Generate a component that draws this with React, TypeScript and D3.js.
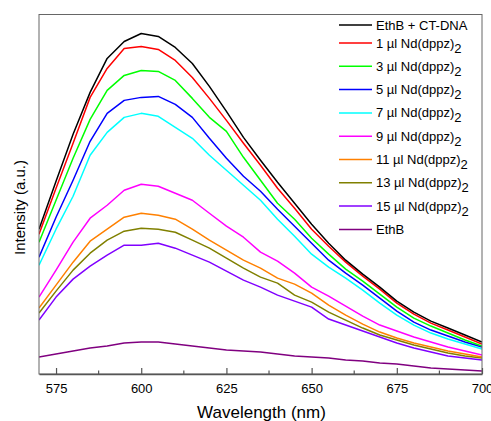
import { useEffect, useRef } from 'react'
import * as d3 from 'd3'

// emission wavelength (nm)
const WAVELENGTHS = [
  570, 575, 580, 585, 590, 595, 600, 605, 610, 615, 620, 625, 630, 635,
  640, 645, 650, 655, 660, 665, 670, 675, 680, 685, 690, 695, 700
]

// intensities (a.u.)
const ETHB_DNA = [145, 193, 240, 282, 316, 333, 341, 338, 327, 311, 288, 263, 237, 214, 192, 171, 150, 131, 114, 100, 87, 73, 62, 53, 46, 39, 32]
const ND_1 = [140, 186, 231, 277, 306, 326, 328, 325, 314, 297, 276, 254, 231, 209, 186, 166, 145, 128, 112, 98, 85, 71, 60, 51, 44, 37, 30]
const ND_3 = [132, 174, 216, 255, 284, 299, 304, 303, 294, 276, 257, 243, 217, 194, 171, 155, 136, 120, 105, 93, 80, 67, 56, 48, 41, 34, 28]
const ND_5 = [117, 157, 194, 233, 261, 274, 277, 278, 270, 257, 236, 216, 198, 183, 165, 148, 131, 114, 101, 89, 76, 63, 52, 44, 38, 32, 27]
const ND_7 = [109, 145, 178, 219, 242, 257, 261, 258, 247, 236, 219, 204, 189, 174, 155, 138, 120, 107, 96, 84, 71, 59, 49, 41, 35, 30, 25]
const ND_9 = [77, 104, 132, 156, 169, 184, 190, 188, 181, 174, 161, 148, 137, 122, 113, 101, 87, 78, 68, 58, 49, 43, 37, 32, 27, 23, 19]
const ND_11 = [66, 89, 112, 133, 145, 157, 161, 159, 155, 145, 134, 124, 114, 106, 96, 90, 81, 69, 59, 50, 42, 36, 31, 27, 23, 20, 17]
const ND_13 = [61, 83, 104, 121, 134, 143, 146, 145, 142, 134, 126, 116, 106, 97, 91, 79, 72, 62, 54, 46, 39, 34, 29, 25, 21, 18, 16]
const ND_15 = [54, 77, 95, 108, 119, 129, 129, 131, 126, 119, 112, 103, 94, 87, 79, 73, 67, 55, 49, 43, 37, 31, 26, 22, 18, 16, 14]
const ETHB = [17, 20, 23, 26, 28, 31, 32, 32, 30, 28, 26, 24, 23, 22, 20, 18, 17, 16, 14, 13, 11, 10, 8, 6, 5, 4, 3]

const X_TICKS = [575, 600, 625, 650, 675, 700]
const X_MINOR = [587.5, 612.5, 637.5, 662.5, 687.5]

const SERIES = [
  { label: 'EthB + CT-DNA', sub: '', values: ETHB_DNA, color: '#000000' },
  { label: '1 \u00b5l Nd(dppz)', sub: '2', values: ND_1, color: '#ff0000' },
  { label: '3 \u00b5l Nd(dppz)', sub: '2', values: ND_3, color: '#00ff00' },
  { label: '5 \u00b5l Nd(dppz)', sub: '2', values: ND_5, color: '#0000ff' },
  { label: '7 \u00b5l Nd(dppz)', sub: '2', values: ND_7, color: '#00ffff' },
  { label: '9 \u00b5l Nd(dppz)', sub: '2', values: ND_9, color: '#ff00ff' },
  { label: '11 \u00b5l Nd(dppz)', sub: '2', values: ND_11, color: '#ff8000' },
  { label: '13 \u00b5l Nd(dppz)', sub: '2', values: ND_13, color: '#808000' },
  { label: '15 \u00b5l Nd(dppz)', sub: '2', values: ND_15, color: '#8000ff' },
  { label: 'EthB', sub: '', values: ETHB, color: '#800080' }
]

const FONT = '"Liberation Sans", Arial, sans-serif'

const SpectraChart = () => {
  const ref = useRef<HTMLDivElement>(null)

  useEffect(() => {
    const width = 491, height = 421
    const margin = { top: 14.5, right: 9, bottom: 47, left: 39 }

    d3.select(ref.current).selectAll('*').remove()

    const svg = d3.select(ref.current)
      .append('svg')
      .attr('width', width)
      .attr('height', height)
      .style('position', 'absolute')
      .style('left', 0)
      .style('top', 0)
      .style('font-family', FONT)

    const x = d3.scaleLinear()
      .domain([570, 700])
      .range([margin.left, width - margin.right])

    const y = d3.scaleLinear()
      .domain([0, 360])
      .range([height - margin.bottom, margin.top])

    const line = d3.line<number>()
      .x((d, i) => x(WAVELENGTHS[i]))
      .y(d => y(d))

    svg.append('defs').append('clipPath')
      .attr('id', 'plot-clip')
      .append('rect')
      .attr('x', margin.left)
      .attr('y', margin.top)
      .attr('width', width - margin.left - margin.right)
      .attr('height', height - margin.top - margin.bottom)

    // curves, weakest first so EthB + CT-DNA ends up on top
    svg.append('g')
      .attr('clip-path', 'url(#plot-clip)')
      .selectAll('path')
      .data(SERIES.slice().reverse())
      .enter().append('path')
      .attr('d', s => line(s.values))
      .attr('fill', 'none')
      .attr('stroke', s => s.color)
      .attr('stroke-width', 1.5)
      .attr('stroke-linejoin', 'round')

    // frame
    svg.append('rect')
      .attr('x', margin.left)
      .attr('y', margin.top)
      .attr('width', width - margin.left - margin.right)
      .attr('height', height - margin.top - margin.bottom)
      .attr('fill', 'none')
      .attr('stroke', '#666')
      .attr('stroke-width', 1)

    const axisY = height - margin.bottom

    const xAxis = svg.append('g')
      .attr('transform', `translate(0,${axisY})`)
      .call(d3.axisBottom(x).tickValues(X_TICKS).tickSizeInner(-6).tickSizeOuter(0).tickPadding(9.5))

    xAxis.select('.domain').attr('stroke', '#555').attr('stroke-width', 1.5)
    xAxis.selectAll('.tick line').attr('stroke', '#555').attr('stroke-width', 1.2)
    xAxis.selectAll('.tick text')
      .attr('fill', '#000')
      .style('font-size', '13px')
      .style('font-family', FONT)

    svg.append('g')
      .selectAll('line')
      .data(X_MINOR)
      .enter().append('line')
      .attr('x1', d => x(d))
      .attr('x2', d => x(d))
      .attr('y1', axisY)
      .attr('y2', axisY - 3.5)
      .attr('stroke', '#555')
      .attr('stroke-width', 1.2)

    svg.append('text')
      .attr('x', (margin.left + width - margin.right) / 2 + 1)
      .attr('y', 417.5)
      .attr('text-anchor', 'middle')
      .style('font-size', '17px')
      .text('Wavelength (nm)')

    svg.append('text')
      .attr('transform', 'translate(25,207.5) rotate(-90)')
      .attr('text-anchor', 'middle')
      .style('font-size', '15px')
      .text('Intensity (a.u.)')

    // legend
    const legend = svg.append('g')
    const rowY = (i: number) => (i === 0 ? 25 : 43 + (i - 1) * 23.3)

    const rows = legend.selectAll('g.row')
      .data(SERIES)
      .enter().append('g')
      .attr('class', 'row')
      .attr('transform', (d, i) => `translate(0,${rowY(i)})`)

    rows.append('line')
      .attr('x1', 339)
      .attr('x2', 372)
      .attr('y1', 0)
      .attr('y2', 0)
      .attr('stroke', d => d.color)
      .attr('stroke-width', 1.5)

    const label = rows.append('text')
      .attr('x', 376)
      .attr('y', 4.5)
      .style('font-size', '13px')

    label.append('tspan').text(d => d.label)
    label.append('tspan')
      .attr('dy', 5)
      .text(d => d.sub)
  }, [])

  return <div ref={ref} />
}

export default function App() {
  return <SpectraChart />
}
